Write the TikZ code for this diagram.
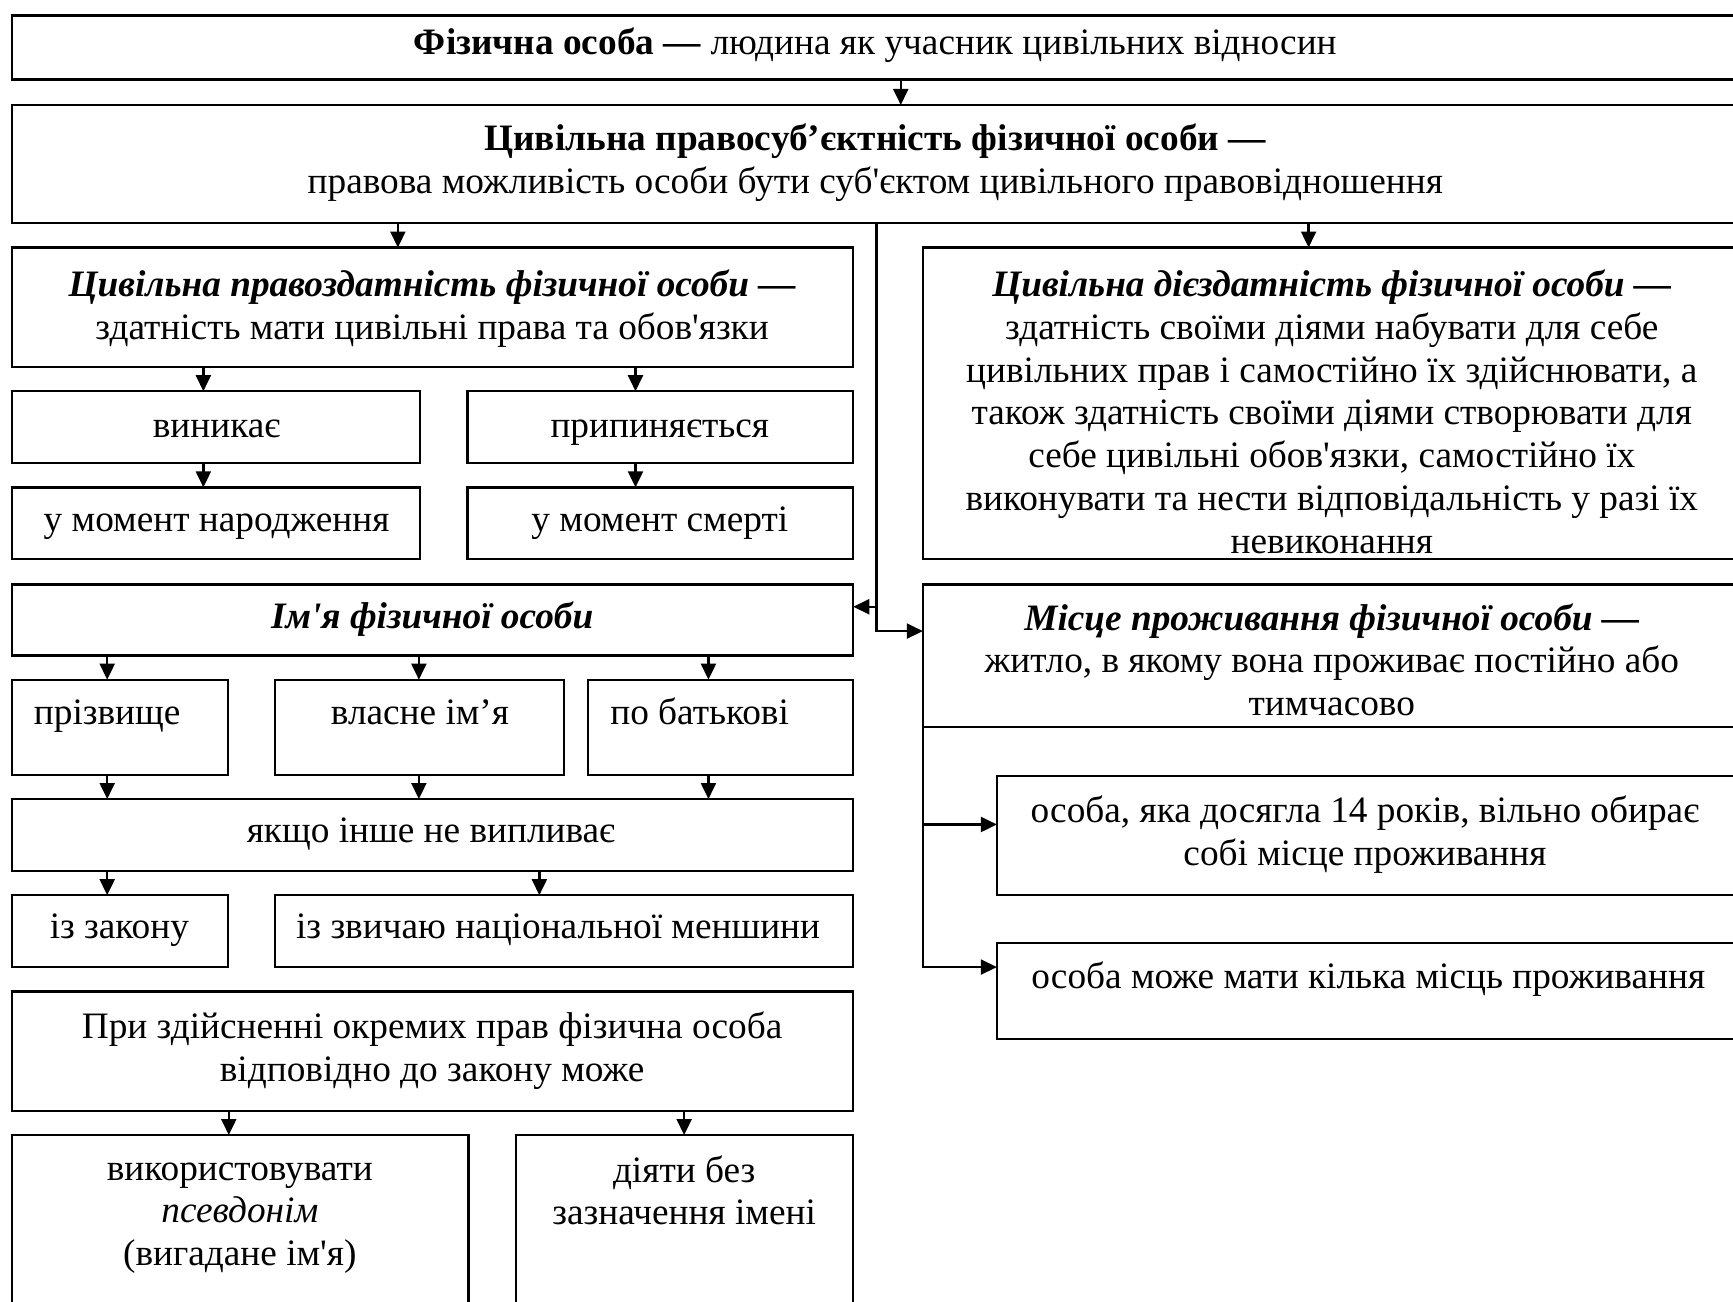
\documentclass[tikz,border=0pt]{standalone}
\usepackage{fontspec}
\setmainfont{Liberation Serif}[Ligatures=TeXOff]
\usetikzlibrary{arrows.meta}
\tikzset{
  box/.style={draw, line width=0.6pt, inner sep=0pt, outer sep=0pt},
  txt/.style={align=center, inner sep=0pt, font=\fontsize{9.6pt}{11pt}\selectfont},
  one/.style={txt, text height=2.3mm, text depth=0.8mm},
  arr/.style={line width=0.6pt, -{Triangle[length=1.45mm,width=1.35mm]}},
  ln/.style={line width=0.6pt}
}
\newcommand\mybox[5]{\node[box, minimum width={(#4-#2)*0.1mm}, minimum height={(#5-#3)*0.1mm}] (#1) at ({(#2+#4)/2},{(#3+#5)/2}) {};}
\begin{document}
\begin{tikzpicture}[x=0.1mm,y=-0.1mm]
\useasboundingbox (0,0) rectangle (1568,1178);
\fill[white] (0,0) rectangle (1568,1178);
\clip (0,0) rectangle (1568,1178);
% boxes
\mybox{top}{11}{14}{1572}{72}
\mybox{subj}{11}{95}{1572}{202}
\mybox{pz}{11}{224}{772}{332}
\mybox{dz}{835}{224}{1572}{506}
\mybox{vyn}{11}{354}{380}{419}
\mybox{prp}{423}{354}{772}{419}
\mybox{nar}{11}{441}{380}{506}
\mybox{smr}{423}{441}{772}{506}
\mybox{name}{11}{529}{772}{593}
\mybox{prz}{11}{615}{206}{701}
\mybox{vla}{249}{615}{510}{701}
\mybox{bat}{532}{615}{772}{701}
\mybox{jak}{11}{723}{772}{788}
\mybox{zak}{11}{810}{206}{875}
\mybox{zvy}{249}{810}{772}{875}
\mybox{pry}{11}{897}{772}{1005}
\mybox{psd}{11}{1027}{424}{1185}
\mybox{bez}{467}{1027}{772}{1185}
\mybox{res}{835}{529}{1572}{658}
\mybox{r1}{902}{702}{1572}{810}
\mybox{r2}{902}{853}{1572}{940}
% texts
\node[one] (t-top) at (792,42) {\textbf{Фізична особа —} людина як учасник цивільних відносин};
\node[txt] (t-subj) at (792,147) {\textbf{Цивільна правосуб’єктність фізичної особи —}\\правова можливість особи бути суб'єктом цивільного правовідношення};
\node[txt] (t-pz) at (391,279) {\textbf{\textit{Цивільна правоздатність фізичної особи —}}\\здатність мати цивільні права та обов'язки};
\node[txt] (t-dz) at (1205,372.5) {\textbf{\textit{Цивільна дієздатність фізичної особи —}}\\здатність своїми діями набувати для себе\\цивільних прав і самостійно їх здійснювати, а\\також здатність своїми діями створювати для\\себе цивільні обов'язки, самостійно їх\\виконувати та нести відповідальність у разі їх\\невиконання};
\node[one] (t-vyn) at (196,388) {виникає};
\node[one] (t-prp) at (597,388) {припиняється};
\node[one] (t-nar) at (196,473) {у момент народження};
\node[one] (t-smr) at (597,473) {у момент смерті};
\node[one] (t-name) at (391,561) {\textbf{\textit{Ім'я фізичної особи}}};
\node[one] (t-prz) at (97,648) {прізвище};
\node[one] (t-vla) at (380,648) {власне ім’я};
\node[one] (t-bat) at (633,648) {по батькові};
\node[one] (t-jak) at (390,755) {якщо інше не випливає};
\node[one] (t-zak) at (108,842) {із закону};
\node[one] (t-zvy) at (505,842) {із звичаю національної меншини};
\node[txt] (t-pry) at (391,950.5) {При здійсненні окремих прав фізична особа\\відповідно до закону може};
\node[txt] (t-psd) at (217,1102) {використовувати\\\textit{псевдонім}\\(вигадане ім'я)};
\node[txt] (t-bez) at (619,1077) {діяти без\\зазначення імені};
\node[txt] (t-res) at (1205,597) {\textbf{\textit{Місце проживання фізичної особи —}}\\житло, в якому вона проживає постійно або\\тимчасово};
\node[txt] (t-r1) at (1235,755) {особа, яка досягла 14 років, вільно обирає\\собі місце проживання};
\node[one] (t-r2) at (1238,887) {особа може мати кілька місць проживання};
% connectors
\draw[arr] (top.south -| 815,0) -- (subj.north -| 815,0);
\draw[arr] (subj.south -| 360,0) -- (pz.north -| 360,0);
\draw[arr] (subj.south -| 1184,0) -- (dz.north -| 1184,0);
\draw[arr] (subj.south -| 793,0) |- (name.east |- 0,549);
\draw[arr] (subj.south -| 793,0) |- (res.west |- 0,571);
\draw[arr] (pz.south -| 184,0) -- (vyn.north -| 184,0);
\draw[arr] (pz.south -| 575,0) -- (prp.north -| 575,0);
\draw[arr] (vyn.south -| 184,0) -- (nar.north -| 184,0);
\draw[arr] (prp.south -| 575,0) -- (smr.north -| 575,0);
\draw[arr] (name.south -| 97,0) -- (prz.north -| 97,0);
\draw[arr] (name.south -| 379,0) -- (vla.north -| 379,0);
\draw[arr] (name.south -| 641,0) -- (bat.north -| 641,0);
\draw[arr] (prz.south -| 97,0) -- (jak.north -| 97,0);
\draw[arr] (vla.south -| 379,0) -- (jak.north -| 379,0);
\draw[arr] (bat.south -| 641,0) -- (jak.north -| 641,0);
\draw[arr] (jak.south -| 97,0) -- (zak.north -| 97,0);
\draw[arr] (jak.south -| 488,0) -- (zvy.north -| 488,0);
\draw[arr] (pry.south -| 207,0) -- (psd.north -| 207,0);
\draw[arr] (pry.south -| 619,0) -- (bez.north -| 619,0);
\draw[arr] (res.south west) |- (r1.west |- 0,746);
\draw[arr] (res.south west) |- (r2.west |- 0,875);
\end{tikzpicture}
\end{document}
